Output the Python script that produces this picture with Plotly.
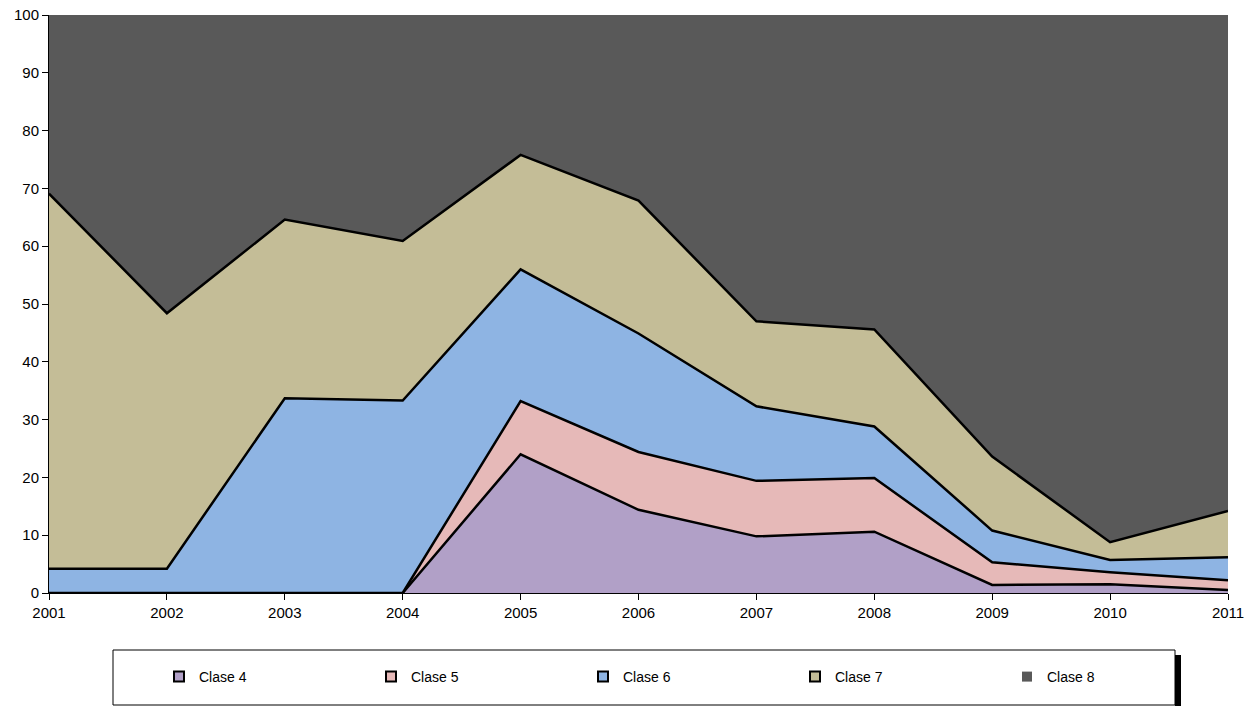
import plotly.graph_objects as go

years = [2001, 2002, 2003, 2004, 2005, 2006, 2007, 2008, 2009, 2010, 2011]
year_labels = [str(y) for y in years]

clase4 = [0, 0, 0, 0, 24.0, 14.4, 9.8, 10.6, 1.4, 1.5, 0.5]
clase5 = [0, 0, 0, 0, 9.2, 10.0, 9.6, 9.3, 3.9, 2.1, 1.7]
clase6 = [4.2, 4.2, 33.7, 33.3, 22.8, 20.5, 12.9, 8.9, 5.5, 2.1, 4.0]
clase7 = [64.9, 44.2, 30.9, 27.6, 19.8, 23.0, 14.7, 16.8, 12.8, 3.1, 8.0]
clase8 = [30.9, 51.6, 35.4, 39.1, 24.2, 32.1, 53.0, 54.5, 76.4, 91.2, 85.8]

series = [
    ("Clase 4", clase4, "#B1A0C7", "black"),
    ("Clase 5", clase5, "#E6B9B8", "black"),
    ("Clase 6", clase6, "#8EB4E3", "black"),
    ("Clase 7", clase7, "#C4BD97", "black"),
    ("Clase 8", clase8, "#595959", "#595959"),
]

FONT = "Arial, Liberation Sans, sans-serif"

fig = go.Figure()
for name, vals, fillc, linec in series:
    fig.add_trace(go.Scatter(
        x=years, y=vals, name=name, mode="lines",
        stackgroup="one", fillcolor=fillc,
        line=dict(color=linec, width=2.5),
        showlegend=False,
    ))
# legend swatches
for name, vals, fillc, linec in series:
    fig.add_trace(go.Scatter(
        x=[None], y=[None], name=name, mode="markers",
        marker=dict(symbol="square", size=10, color=fillc,
                    line=dict(color=linec, width=2 if linec == "black" else 0)),
        showlegend=True,
    ))

W, H = 1258, 706
L, R, T, B = 49, 30, 15, 113
pw, ph = W - L - R, H - T - B

def px_x(p):
    return (p - L) / pw

def px_y(p):
    return (H - B - p) / ph

fig.update_layout(
    width=W, height=H,
    margin=dict(l=L, r=R, t=T, b=B, autoexpand=False),
    paper_bgcolor="white", plot_bgcolor="white",
    font=dict(family=FONT, size=15, color="black"),
    showlegend=True,
    legend=dict(
        orientation="h", x=px_x(159), xanchor="left",
        y=px_y(677), yanchor="middle",
        entrywidth=167, entrywidthmode="pixels", itemwidth=30,
        font=dict(family=FONT, size=14, color="black"),
        bgcolor="rgba(0,0,0,0)", traceorder="normal",
    ),
    xaxis=dict(
        range=[2001, 2011], tickvals=years, ticktext=year_labels,
        showgrid=False, zeroline=False, showline=True, linecolor="black",
        linewidth=1, ticks="outside", ticklen=6, tickcolor="black",
        tickfont=dict(family=FONT, size=15),
    ),
    yaxis=dict(
        range=[0, 100], dtick=10,
        showgrid=False, zeroline=False, showline=True, linecolor="black",
        linewidth=1, ticks="outside", ticklen=6, tickcolor="black",
        tickfont=dict(family=FONT, size=15),
    ),
    shapes=[
        dict(type="rect", xref="paper", yref="paper",
             x0=px_x(1175), x1=px_x(1181), y0=px_y(706), y1=px_y(655),
             fillcolor="black", line=dict(width=0)),
        dict(type="rect", xref="paper", yref="paper",
             x0=px_x(113), x1=px_x(1175), y0=px_y(705), y1=px_y(650),
             fillcolor="rgba(0,0,0,0)", line=dict(color="black", width=1)),
    ],
)

fig.write_html("out.html", config={"displayModeBar": False},
               post_script="document.body.style.margin='0';")
